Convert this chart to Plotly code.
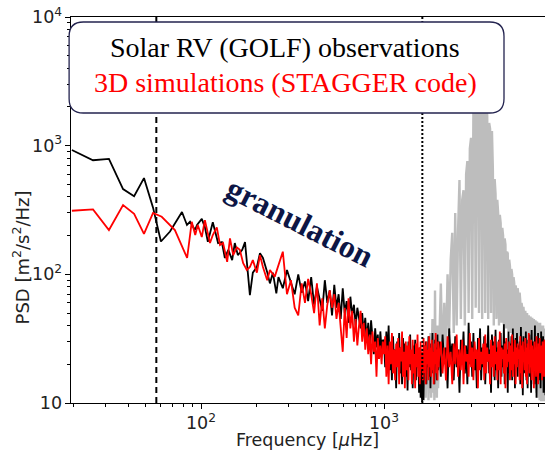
import plotly.graph_objects as go

# ---------------- data ----------------
# low-frequency part of the GOLF (black) spectrum
BLACK_LOW_FREQ = [19.7, 25.7, 31.4, 37.5, 43.1, 48.8, 54.7, 60.4, 67.7, 78.7, 83.8, 87.1, 92.7, 95.1,
                  101, 105, 109, 116, 124, 130, 135, 141, 148, 153, 159, 168, 174, 178, 185, 192,
                  202, 210, 218, 230, 238, 247, 258]
BLACK_LOW_PSD = [925, 770, 790, 460, 405, 560, 330, 180, 215, 305, 242, 256, 221, 242,
                 270, 233, 179, 254, 175, 178, 134, 155, 129, 175, 141, 155, 178, 122, 69, 103,
                 114, 146, 134, 104, 85, 103, 71]

# low-frequency part of the STAGGER (red) spectrum
RED_LOW_FREQ = [19.7, 25.7, 31.4, 37.5, 43.1, 48.8, 54.7, 61, 72, 84, 89, 93, 96, 101, 105, 112,
                116, 122, 127, 132, 139, 144, 150, 157, 163, 170, 178, 185, 192, 202, 210, 218,
                230, 238, 253]
RED_LOW_PSD = [312, 320, 221, 345, 295, 206, 300, 280, 221, 134, 256, 202, 242, 195, 264, 175,
               202, 232, 169, 175, 125, 190, 141, 162, 155, 122, 108, 114, 129, 103, 141, 114,
               90, 108, 96]

# higher-frequency frequency grids (µHz)
SEG_A_FREQ = [265, 280, 295, 310, 325, 340, 355, 370, 385, 400, 415, 430, 445, 460, 475, 490,
              505, 520, 535, 550, 565, 580, 595, 610, 625, 640, 655, 670, 685, 700, 715, 730,
              745, 760, 775, 790, 805, 820, 835, 850, 865, 880, 895, 910, 925, 940, 955, 970, 985]
SEG_B_FREQ = [1000, 1015, 1030, 1045, 1060, 1075, 1090, 1105, 1120, 1135, 1150, 1165, 1180, 1195,
              1210, 1225, 1240, 1255, 1270, 1285, 1300, 1315, 1330, 1345, 1360, 1375, 1390, 1405,
              1420, 1435, 1450, 1465, 1480, 1495, 1510, 1525, 1540, 1555, 1570, 1585, 1600, 1615,
              1630, 1645, 1660, 1675, 1690, 1705, 1720, 1735, 1750, 1765, 1780, 1795, 1810, 1825,
              1840, 1855, 1870, 1885, 1900, 1915, 1930, 1945, 1960, 1975, 1990]
SEG_C_FREQ = [2000, 2045, 2090, 2135, 2180, 2225, 2270, 2315, 2360, 2405,
              2450, 2495, 2540, 2585, 2630, 2675, 2720, 2765, 2810, 2855,
              2900, 2945, 2990, 3035, 3080, 3125, 3170, 3215, 3260, 3305,
              3350, 3395, 3440, 3485, 3530, 3575, 3620, 3665, 3710, 3755,
              3800, 3845, 3890, 3935, 3980, 4025, 4070, 4115, 4160, 4205,
              4250, 4295, 4340, 4385, 4430, 4475, 4520, 4565, 4610, 4655,
              4700, 4745, 4790, 4835, 4880, 4925, 4970, 5015, 5060, 5105,
              5150, 5195, 5240, 5285, 5330, 5375, 5420, 5465, 5510, 5555,
              5600, 5645, 5690, 5735, 5780, 5825, 5870, 5915, 5960, 6005,
              6050, 6095, 6140, 6185, 6230, 6275, 6320, 6365, 6410, 6455,
              6500, 6545, 6590, 6635, 6680, 6725, 6770, 6815, 6860, 6905,
              6950, 6995, 7040, 7085, 7130, 7175, 7220, 7265, 7310, 7355,
              7400, 7445, 7490, 7535, 7580, 7625, 7670]

BLACK_A = [95, 78, 108, 85, 70, 100, 72, 88, 62, 95, 58, 80, 66, 52, 90, 60, 75, 48, 83, 55,
           70, 45, 78, 50, 62, 42, 67, 48, 58, 40, 55, 44, 38, 50, 35, 46, 30, 42, 28, 44,
           32, 24, 38, 27, 34, 22, 36, 26, 31]
RED_A = [120, 150, 70, 90, 55, 48, 85, 60, 92, 70, 50, 85, 40, 65, 38, 58, 75, 55, 70, 45,
         60, 40, 25, 55, 32, 65, 38, 52, 30, 45, 28, 40, 52, 30, 42, 26, 38, 24, 34, 20,
         36, 25, 30, 16, 32, 22, 28, 20, 30]

BLACK_B = [30, 19, 36, 22, 40, 18, 28, 15, 33, 21, 26, 13, 30, 20, 35, 17, 27, 14, 32, 22,
           29, 16, 25, 12.5, 30, 19, 34, 18, 24, 13, 28, 20, 31, 15, 26, 19, 22, 12, 27, 11,
           20, 10.2, 24, 10.5, 28, 17, 30, 14, 26, 19, 33, 16, 27, 13, 29, 21, 35, 17, 25, 14,
           31, 20, 27, 15, 34, 18, 26]
RED_B = [24, 33, 16, 28, 14, 30, 20, 35, 17, 26, 15, 29, 19, 32, 14, 27, 21, 36, 16, 25,
         13, 30, 18, 28, 15, 33, 20, 26, 14, 31, 17, 24, 13, 29, 19, 34, 16, 27, 14, 30,
         18, 25, 15, 32, 17, 28, 14, 30, 20, 26, 15, 33, 19, 27, 16, 31, 18, 25, 14, 29,
         20, 35, 17, 26, 15, 30, 19]

BLACK_C = [30, 16, 34, 20, 27, 13, 38, 22, 29, 15,
           33, 19, 26, 12, 31, 21, 36, 17, 28, 14,
           42, 20, 30, 16, 35, 18, 25, 13, 32, 22,
           38, 15, 27, 19, 33, 14, 29, 21, 40, 17,
           26, 12, 34, 20, 30, 15, 37, 18, 27, 13,
           31, 22, 35, 16, 28, 19, 41, 14, 30, 20,
           26, 12, 36, 17, 29, 21, 33, 15, 38, 18,
           27, 13, 32, 20, 35, 16, 28, 22, 30, 14,
           39, 19, 26, 11.5, 33, 17, 29, 21, 36, 15,
           27, 13, 31, 20, 34, 16, 28, 12, 37, 18,
           30, 22, 26, 14, 40, 17, 29, 11, 32, 19,
           35, 15, 27, 21, 30, 13, 36, 18, 28, 16,
           33, 12, 31, 20, 26, 11.5, 30]
RED_C = [22, 30, 17, 27, 15, 33, 19, 25, 14, 29,
         20, 34, 16, 26, 18, 31, 14, 28, 21, 24,
         16, 35, 19, 27, 15, 30, 22, 26, 13, 32,
         18, 25, 20, 29, 15, 34, 17, 27, 21, 24,
         14, 31, 19, 28, 16, 33, 20, 25, 15, 30,
         18, 36, 14, 27, 22, 26, 17, 29, 13, 32,
         19, 24, 21, 30, 15, 28, 18, 34, 16, 25,
         20, 31, 14, 27, 19, 29, 22, 26, 15, 33,
         17, 28, 13, 30, 21, 25, 18, 32, 16, 27,
         14, 29, 20, 35, 17, 24, 19, 31, 15, 28,
         22, 26, 13, 30, 18, 27, 16, 33, 20, 25,
         14, 29, 19, 32, 17, 26, 21, 28, 15, 30,
         18, 24, 16, 31, 20, 27, 14]

# full-resolution GOLF spectrum with p modes (grey), from 1660 µHz
GRAY_B = [14, 22, 11, 25, 13, 30, 10.5, 20, 12, 35, 11, 18, 45, 12, 24, 10.5, 75, 14, 28, 11,
          40, 13, 22]
GRAY_C = [30, 85, 20, 60, 25, 100, 35, 130, 210, 35,
          300, 40, 220, 540, 45, 380, 450, 40, 600, 760,
          50, 950, 1150, 45, 1800, 2500, 55, 3500, 3000, 50,
          4000, 2800, 45, 3200, 2600, 50, 2400, 1700, 45, 1500,
          1350, 50, 1300, 650, 40, 550, 420, 45, 380, 300,
          40, 290, 250, 42, 230, 200, 40, 190, 170, 38,
          150, 145, 36, 130, 115, 35, 110, 100, 33, 95,
          85, 30, 82, 75, 28, 78, 70, 26, 72, 62,
          25, 60, 55, 24, 56, 48, 22, 52, 44, 20,
          50, 40, 18, 48, 38, 16, 47, 36, 15, 46,
          34, 14, 45, 32, 13, 44, 30, 12, 43, 28,
          11, 42, 26, 10.5, 42, 25, 10.3, 40, 24, 10.3,
          40, 22, 10.3, 38, 20, 10.3, 38]

NU_CUT_LOW = 57      # dashed line (µHz)
NU_CUT_HIGH = 1620   # dotted line (µHz)
Y_LIMITS = [10, 10000]

LINE1 = "Solar RV (GOLF) observations"
LINE2 = "3D simulations (STAGGER code)"
LABEL = "granulation"
X_TITLE = "Frequency [<i>μ</i>Hz]"
Y_TITLE = "PSD [m<sup>2</sup>/s<sup>2</sup>/Hz]"

# ---------------- figure ----------------
high_freq = SEG_A_FREQ + SEG_B_FREQ + SEG_C_FREQ
black_x = BLACK_LOW_FREQ + high_freq
black_y = BLACK_LOW_PSD + BLACK_A + BLACK_B + BLACK_C
red_x = RED_LOW_FREQ + high_freq
red_y = RED_LOW_PSD + RED_A + RED_B + RED_C
gray_x = SEG_B_FREQ[44:] + SEG_C_FREQ
gray_y = GRAY_B + GRAY_C

fig = go.Figure()
fig.add_trace(go.Scatter(x=gray_x, y=gray_y, mode="lines",
                         line=dict(color="#bdbdbd", width=2.4), hoverinfo="skip"))
fig.add_trace(go.Scatter(x=black_x, y=black_y, mode="lines",
                         line=dict(color="black", width=1.8)))
fig.add_trace(go.Scatter(x=red_x, y=red_y, mode="lines",
                         line=dict(color="#ff0000", width=1.8)))
fig.add_trace(go.Scatter(x=[NU_CUT_LOW, NU_CUT_LOW], y=Y_LIMITS, mode="lines",
                         line=dict(color="black", width=2, dash="6px,4px")))
fig.add_trace(go.Scatter(x=[NU_CUT_HIGH, NU_CUT_HIGH], y=Y_LIMITS, mode="lines",
                         line=dict(color="black", width=2, dash="2px,2px")))

# rounded text box (paper coordinates)
x0, x1, y0, y1 = -0.004, 0.9135, 0.7513, 0.987
rx, ry = 0.030, 0.037
path = (f"M {x0+rx},{y0} L {x1-rx},{y0} Q {x1},{y0} {x1},{y0+ry} L {x1},{y1-ry} "
        f"Q {x1},{y1} {x1-rx},{y1} L {x0+rx},{y1} Q {x0},{y1} {x0},{y1-ry} "
        f"L {x0},{y0+ry} Q {x0},{y0} {x0+rx},{y0} Z")
fig.add_shape(type="path", path=path, xref="paper", yref="paper",
              line=dict(color="#23234f", width=1.3), fillcolor="white", layer="above")

serif = "Liberation Serif"
fig.add_annotation(x=0.4515, y=0.9197, xref="paper", yref="paper", text=LINE1,
                   xanchor="center", yanchor="middle", showarrow=False,
                   font=dict(family=serif, size=28, color="black"))
fig.add_annotation(x=0.4515, y=0.8316, xref="paper", yref="paper", text=LINE2,
                   xanchor="center", yanchor="middle", showarrow=False,
                   font=dict(family=serif, size=28, color="#ff0000"))
fig.add_annotation(x=0.483, y=0.469, xref="paper", yref="paper", text=f"<b>{LABEL}</b>",
                   xanchor="center", yanchor="middle", showarrow=False, textangle=27,
                   font=dict(family=serif, size=32, color="#0d1645"))

# axis titles placed as annotations (to match the reference positions)
fig.add_annotation(x=-0.1034, y=0.377, xref="paper", yref="paper", text=Y_TITLE,
                   xanchor="center", yanchor="middle", showarrow=False, textangle=-90,
                   font=dict(family="DejaVu Sans", size=18, color="#222222"))
fig.add_annotation(x=0.4995, y=-0.095, xref="paper", yref="paper", text=X_TITLE,
                   xanchor="center", yanchor="middle", showarrow=False, borderpad=0,
                   font=dict(family="DejaVu Sans", size=17.5, color="#222222"))

axis_font = dict(family="DejaVu Sans", size=14, color="#222222")
fig.update_xaxes(type="log", range=[1.2896, 3.8798], dtick=1, exponentformat="power",
                 ticks="outside", ticklen=5, tickwidth=1, tickcolor="black",
                 minor=dict(ticks="outside", ticklen=3, tickcolor="black", dtick="D1"),
                 showline=True, linecolor="black", linewidth=1.2, mirror=True,
                 showgrid=False, zeroline=False, tickfont=axis_font)
fig.update_yaxes(type="log", range=[1, 4], dtick=1, exponentformat="power",
                 ticks="outside", ticklen=5, tickwidth=1, tickcolor="black",
                 minor=dict(ticks="outside", ticklen=3, tickcolor="black", dtick="D1"),
                 showline=True, linecolor="black", linewidth=1.2,
                 showgrid=False, zeroline=False, tickfont=axis_font)

fig.update_layout(width=545, height=450, margin=dict(l=71, r=0, t=17, b=47),
                  plot_bgcolor="white", paper_bgcolor="white", showlegend=False)

fig.write_html("out.html")
